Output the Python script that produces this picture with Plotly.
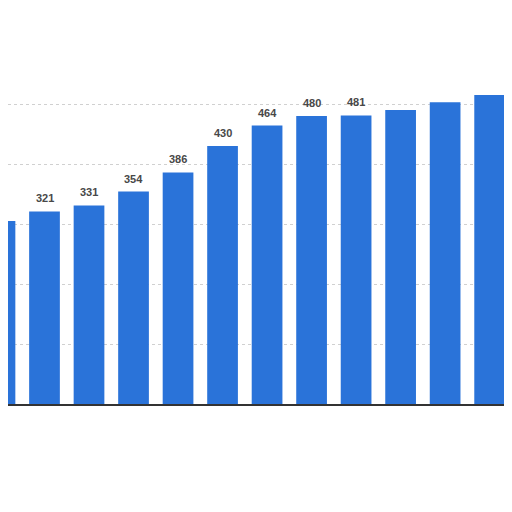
"""Bar chart with value labels, cropped view."""

import plotly.graph_objects as go

# bar values (last three labels are hidden in the reference)
categories = [f"c{i}" for i in range(12)]
values = [305, 321, 331, 354, 386, 430, 464, 480, 481, 490, 503, 515]
labels = ["305", "321", "331", "354", "386", "430", "464", "480", "481", "", "", ""]
y_ticks = [0, 100, 200, 300, 400, 500]

BAR_COLOR = "#2a73d9"
LABEL_COLOR = "#484848"

fig = go.Figure()
fig.add_trace(go.Bar(
    x=categories,
    y=values,
    marker=dict(color=BAR_COLOR, line=dict(width=0)),
    width=0.69,
    hoverinfo="x+y"
))

# value labels above bars
for cat, val, lab in zip(categories, values, labels):
    if not lab:
        continue
    fig.add_annotation(
        x=cat, y=val, text=f"<b>{lab}</b>",
        showarrow=False, yanchor="bottom", yshift=5,
        font=dict(family="Liberation Sans, Arial, sans-serif", size=11, color=LABEL_COLOR)
    )

# the page body adds an 8px offset, so the margins and ranges account for it
fig.update_layout(
    width=512,
    height=512,
    margin=dict(l=0, r=13, t=74, b=116),
    paper_bgcolor="white",
    plot_bgcolor="white",
    showlegend=False
)
fig.update_xaxes(
    range=[0.18, 11.39],
    showticklabels=False,
    ticks="",
    showgrid=False,
    showline=True,
    linecolor="#333333",
    linewidth=1.5
)
fig.update_yaxes(
    range=[0, 536.7],
    tickvals=y_ticks,
    showticklabels=False,
    showgrid=True,
    gridcolor="#d0d0d0",
    griddash="dot",
    gridwidth=1,
    zeroline=False
)

fig.write_html("out.html")
